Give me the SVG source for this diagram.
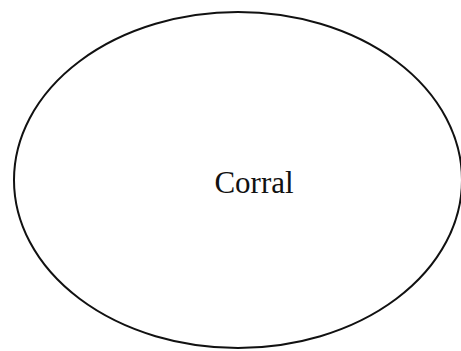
<svg xmlns="http://www.w3.org/2000/svg" width="461" height="351" viewBox="0 0 461 351">
<style>
.shape{fill:none;stroke:#111;stroke-width:2}
.label{font-family:"Liberation Serif","Times New Roman",serif;font-size:31px;fill:#111;text-anchor:middle}
</style>
<rect width="461" height="351" fill="#fff"/>
<g id="corral">
<ellipse class="shape" cx="238" cy="180" rx="224" ry="168"/>
<text class="label" x="254" y="193">Corral</text>
</g>
<g id="connectors"/>
</svg>
